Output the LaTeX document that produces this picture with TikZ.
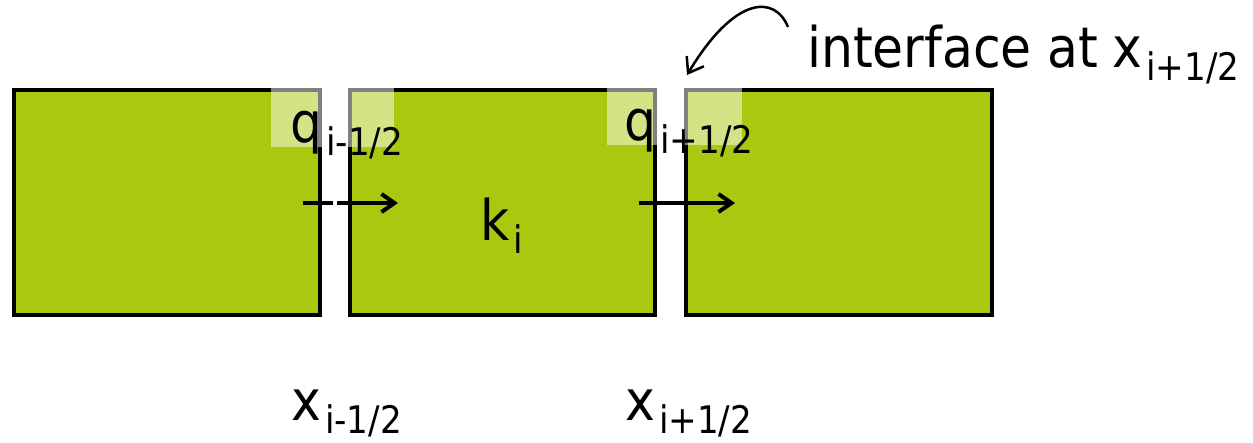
\documentclass[tikz,border=0pt]{standalone}
\usepackage{fontspec}
\setmainfont{DejaVu Sans Condensed}
\usetikzlibrary{arrows.meta}
\definecolor{cellgreen}{RGB}{172,199,16}
\newcommand{\mysub}[1]{\kern4pt\raisebox{-13pt}{\fontsize{38}{38}\selectfont #1}}
\begin{document}
\begin{tikzpicture}[x=1pt,y=-1pt,
  cell/.style={draw=black, fill=cellgreen, line width=3.5pt, inner sep=0pt, minimum height=225pt},
  hl/.style={fill=white, fill opacity=0.5, draw=none},
  lbl/.style={inner sep=0pt, anchor=base west, font=\fontsize{56}{56}\selectfont},
  flux/.style={line width=4pt, -{Straight Barb[length=13pt,width=18pt]}},
  callout/.style={line width=2.5pt, -{Straight Barb[length=14pt,width=20pt]}}]
\useasboundingbox (0,0) rectangle (1253,442);
% cells
\node[cell, minimum width=306pt] (c1) at (167,202.5) {};
\node[cell, minimum width=305pt] (c2) at (502.5,202.5) {};
\node[cell, minimum width=306pt] (c3) at (839,202.5) {};
% highlights
\path[hl] (271,88) rectangle (394,147);
\path[hl] (607,88) rectangle (742,145);
% labels
\node[lbl] (qm) at (290,142) {q\mysub{i-1/2}};
\node[lbl] (qp) at (624,140) {q\mysub{i+1/2}};
\node[lbl] (k) at (480,240) {k\mysub{i}};
\node[lbl] (xm) at (291,420) {x\mysub{i-1/2}};
\node[lbl] (xp) at (625,420) {x\mysub{i+1/2}};
\node[lbl] (iface) at (807,67) {interface at\hspace{14pt}x\mysub{i+1/2}};
% flux arrows
\coordinate (f1s) at (303,203);
\coordinate (f1e) at (398,203);
\coordinate (f2s) at (639,203);
\coordinate (f2e) at (735,203);
\draw[flux, dash pattern=on 30pt off 4pt on 200pt] (f1s) -- (f1e);
\draw[flux] (f2s) -- (f2e);
% callout arrow
\coordinate (cs) at (788,27);
\coordinate (ce) at (687,75);
\draw[callout] (cs) .. controls (775,-5) and (735,-5) .. (ce);
\end{tikzpicture}
\end{document}
